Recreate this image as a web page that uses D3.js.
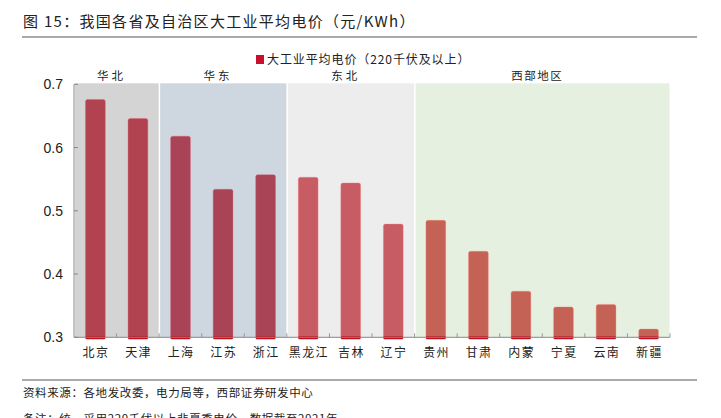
<!DOCTYPE html>
<html><head><meta charset="utf-8">
<script src="https://cdn.jsdelivr.net/npm/d3@7"></script>
<style>body{margin:0;background:#fff}svg{display:block}</style>
</head><body>
<svg id="c" width="721" height="418"></svg>
<script>
const categories = ["北京","天津","上海","江苏","浙江","黑龙江","吉林","辽宁","贵州","甘肃","内蒙","宁夏","云南","新疆"];
const values = [0.676,0.646,0.618,0.534,0.557,0.553,0.544,0.479,0.485,0.436,0.373,0.348,0.352,0.313];
const regionOf = ["华北","华北","华东","华东","华东","东北","东北","东北","西部地区","西部地区","西部地区","西部地区","西部地区","西部地区"];
const regions = ["华北","华东","东北","西部地区"];
const regionBg = {"华北":"#d4d4d4","华东":"#ced6e0","东北":"#ededed","西部地区":"#e6f0e0"};
const regionBar = {"华北":"#b0434f","华东":"#a94456","东北":"#c85c64","西部地区":"#c46256"};
const yTicks = [0.3,0.4,0.5,0.6,0.7];
const title = "图 15：我国各省及自治区大工业平均电价（元/KWh）";
const legendLabel = "大工业平均电价（220千伏及以上）";
const source = "资料来源：各地发改委，电力局等，西部证券研发中心";
const note = "备注：统一采用220千伏以上非夏季电价，数据截至2021年";

const svg = d3.select("#c");
const cjk = "'Noto Sans CJK SC', sans-serif";
const num = "'Liberation Sans', Arial, sans-serif";
const L = 74, R = 670, T = 84.3, B = 337.3;

const x = d3.scaleBand().domain(categories).range([L, R]).paddingInner(0.535).paddingOuter(0.27);
const xs = d3.scaleBand().domain(categories).range([L, R]);
const y = d3.scaleLinear().domain([0.3, 0.7]).range([B, T]);

// title
svg.append("text").attr("x", 23).attr("y", 27).attr("font-family", cjk).attr("font-size", 15)
  .attr("letter-spacing", 1.3).attr("fill", "#222").text(title);
svg.append("line").attr("x1", 22).attr("x2", 697).attr("y1", 37).attr("y2", 37)
  .attr("stroke", "#555").attr("stroke-width", 1.2);

// regions
regions.forEach(r => {
  const idx = categories.map((c,i)=>i).filter(i => regionOf[i] === r);
  const x0 = xs(categories[idx[0]]), x1 = xs(categories[idx[idx.length-1]]) + xs.bandwidth();
  svg.append("rect").attr("x", x0 + 1).attr("y", T - 1).attr("width", x1 - x0 - 1.5)
    .attr("height", B - T + 1).attr("fill", regionBg[r]);
  svg.append("text").attr("x", (x0 + x1) / 2 - 5).attr("y", 80).attr("text-anchor", "middle")
    .attr("font-family", cjk).attr("font-size", 11.5).attr("letter-spacing", r.length > 2 ? 1.5 : 3)
    .attr("fill", "#222").text(r);
});

// bars
const g = svg.append("g");
categories.forEach((c, i) => {
  const col = regionBar[regionOf[i]];
  g.append("rect").attr("x", x(c)).attr("y", y(values[i])).attr("width", x.bandwidth())
    .attr("height", B - y(values[i]) + 1).attr("rx", 2).attr("fill", col)
    .attr("stroke", d3.color(col).brighter(0.8)).attr("stroke-width", 0.6).attr("stroke-opacity", 0.6);
  g.append("rect").attr("x", x(c)).attr("y", B - 1).attr("width", x.bandwidth()).attr("height", 3)
    .attr("rx", 1).attr("fill", "#c0101e");
});

// y axis
svg.append("line").attr("x1", L).attr("x2", L).attr("y1", T).attr("y2", B).attr("stroke", "#888");
yTicks.forEach(t => {
  svg.append("line").attr("x1", L).attr("x2", L + 4).attr("y1", y(t)).attr("y2", y(t)).attr("stroke", "#888");
  svg.append("text").attr("x", 63).attr("y", y(t) + 5).attr("text-anchor", "end")
    .attr("font-family", num).attr("font-size", 14).attr("fill", "#222").text(t.toFixed(1));
});

// x axis
svg.append("line").attr("x1", L).attr("x2", R).attr("y1", B).attr("y2", B).attr("stroke", "#888");
categories.forEach((c, i) => {
  if (i > 0) svg.append("line").attr("x1", xs(c)).attr("x2", xs(c)).attr("y1", B).attr("y2", B - 4).attr("stroke", "#999");
  svg.append("text").attr("x", xs(c) + xs.bandwidth() / 2 + 0.7).attr("y", 357).attr("text-anchor", "middle")
    .attr("font-family", cjk).attr("font-size", 12).attr("letter-spacing", 1.4).attr("fill", "#222").text(c);
});
svg.append("line").attr("x1", R).attr("x2", R).attr("y1", B).attr("y2", B - 4).attr("stroke", "#999");

// legend
svg.append("rect").attr("x", 256).attr("y", 55).attr("width", 8).attr("height", 9).attr("fill", "#c8102e");
svg.append("text").attr("x", 267).attr("y", 64).attr("font-family", cjk).attr("font-size", 12)
  .attr("letter-spacing", 0.9).attr("fill", "#222").text(legendLabel);

// footer
svg.append("line").attr("x1", 22).attr("x2", 697).attr("y1", 380).attr("y2", 380)
  .attr("stroke", "#555").attr("stroke-width", 1);
svg.append("text").attr("x", 23).attr("y", 397).attr("font-family", cjk).attr("font-size", 11.5)
  .attr("letter-spacing", 0.6).attr("fill", "#222").text(source);
svg.append("text").attr("x", 23).attr("y", 423).attr("font-family", cjk).attr("font-size", 11.5)
  .attr("letter-spacing", 0.6).attr("fill", "#222").text(note);
</script>
</body></html>
